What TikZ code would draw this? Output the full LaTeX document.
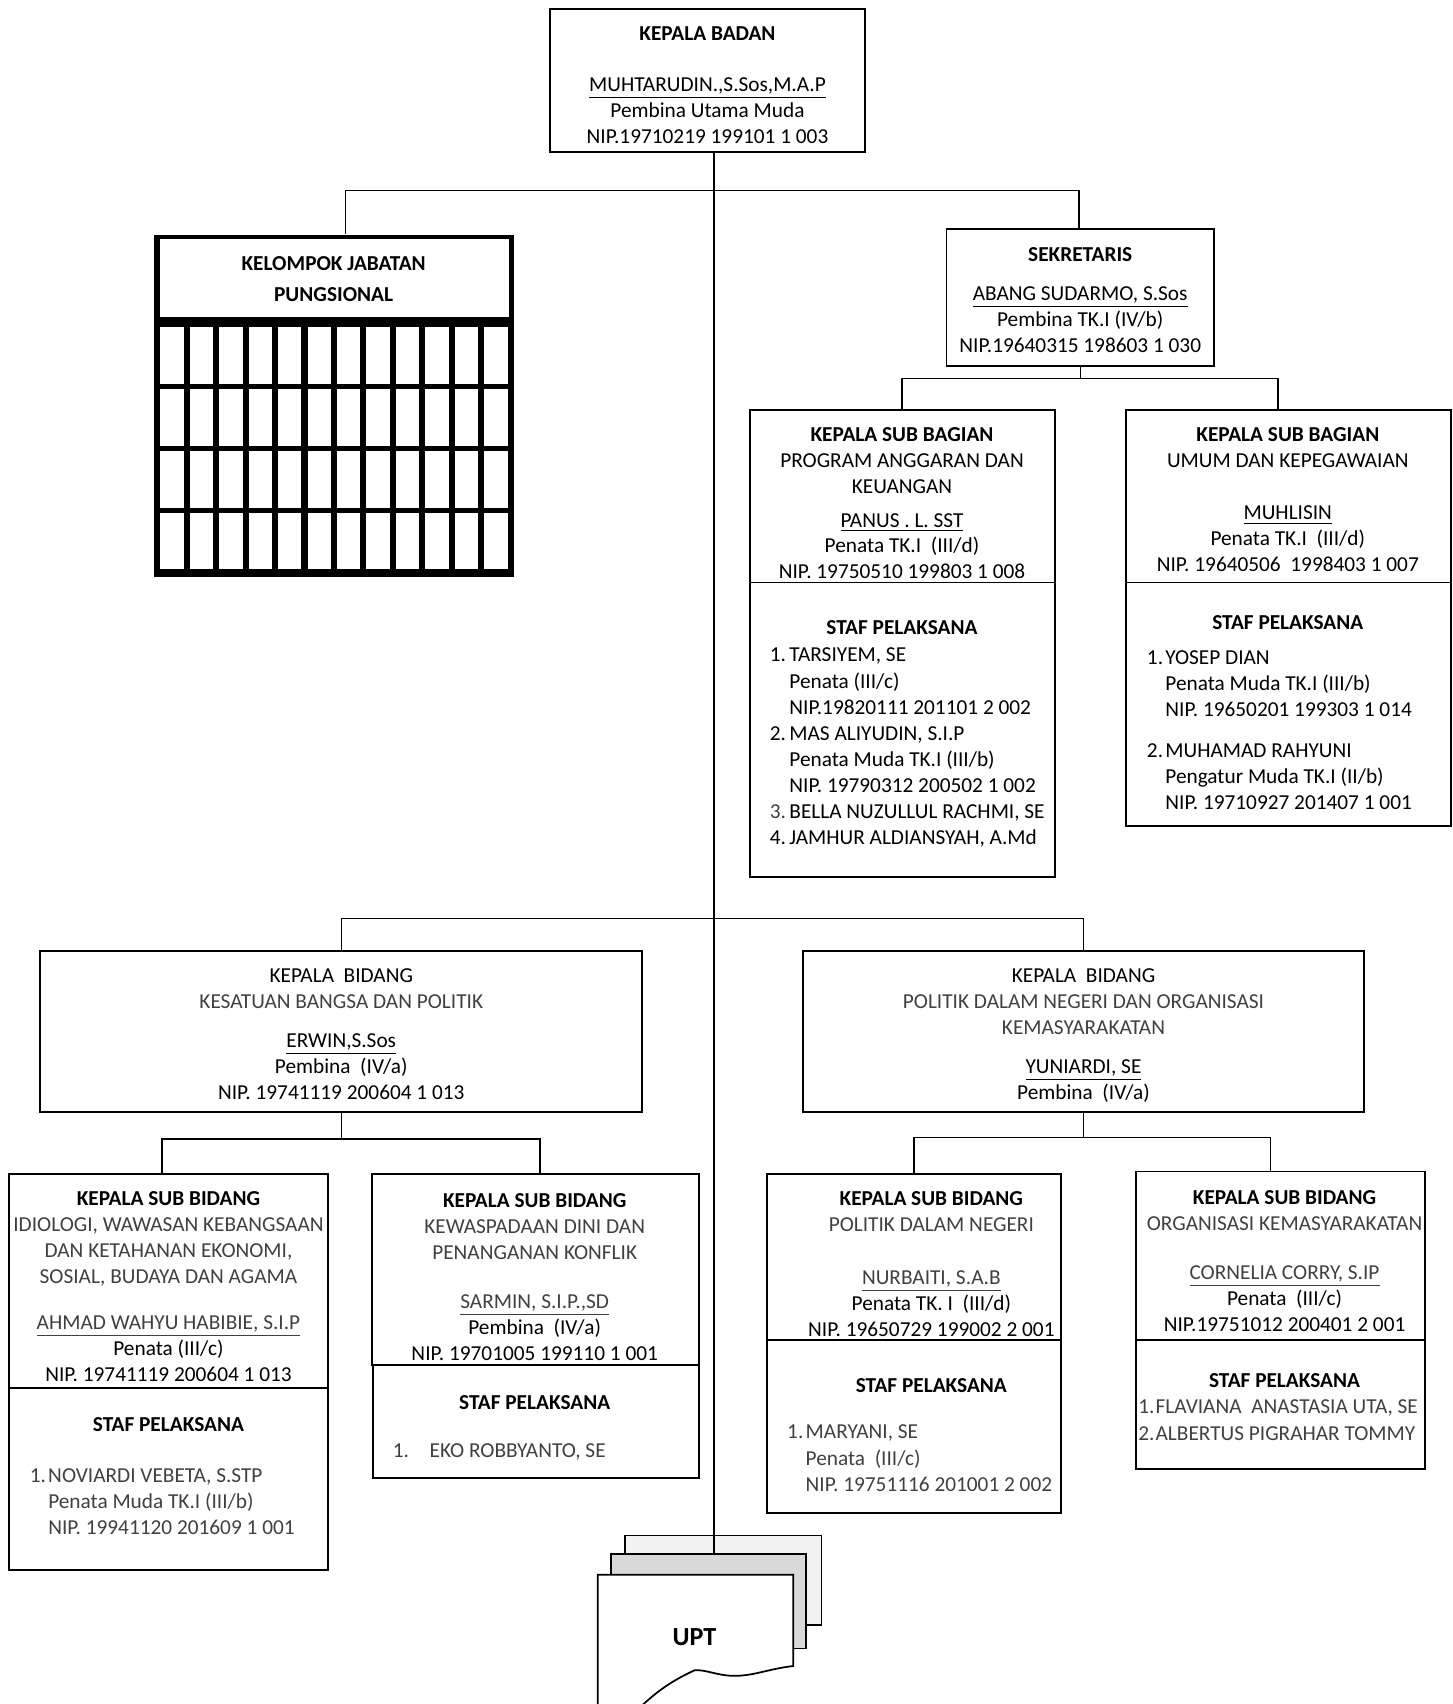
\documentclass[tikz,border=0pt]{standalone}
\usepackage{fontspec}
\setmainfont{Carlito}
\usetikzlibrary{fit}

\newcommand{\lite}[1]{{\color{black!75}#1}}
\newcommand{\nr}[2][9pt]{\makebox[#1][l]{#2}}

\tikzset{
  box/.style={draw, line width=0.8pt, inner sep=0pt},
  link/.style={draw, line width=0.6pt},
  txt/.style={align=center, anchor=north, inner sep=0pt, yshift=-2.5pt,
    font=\fontsize{9.8}{12}\selectfont, execute at begin node=\strut},
  list/.style={txt, align=left, anchor=north west},
}

\begin{document}
\begin{tikzpicture}[x=0.5pt, y=-0.5pt]
\useasboundingbox (0,0) rectangle (1337,1568);

% boxes
\node (badan)   [box, fit={(506,8) (796,140)}] {};
\node (sek)     [box, fit={(871,211) (1117,337)}] {};
\node (prog)    [box, fit={(690,377) (971,536)}] {};
\node (prog-s)  [box, fit={(690,536) (971,807)}] {};
\node (umum)    [box, fit={(1036,377) (1335,536)}] {};
\node (umum-s)  [box, fit={(1036,536) (1335,760)}] {};
\node (kesbang) [box, fit={(37,875) (591,1023)}] {};
\node (polbid)  [box, fit={(739,875) (1255,1023)}] {};
\node (ideo)    [box, fit={(8,1080) (302,1277)}] {};
\node (ideo-s)  [box, fit={(8,1277) (302,1445)}] {};
\node (waspada) [box, fit={(342,1080) (643,1256)}] {};
\node (waspada-s) [box, fit={(343,1256) (643,1360)}] {};
\node (pdn)     [box, fit={(706,1080) (976,1233)}] {};
\node (pdn-s)   [box, fit={(706,1233) (976,1392)}] {};
\node (ormas)   [box, fit={(1045,1078) (1311,1233)}] {};
\node (ormas-s) [box, fit={(1045,1233) (1311,1352)}] {};

% kelompok jabatan
\node (kjp)   [inner sep=0pt, fill=black, fit={(142,216) (473,531)}] {};
\node (kjp-h) [inner sep=0pt, fill=white, fit={(147,220) (468,292)}] {};
\foreach \c in {0,...,11}
  \foreach \r in {0,...,3}
    \fill[white] ({147.5+\c*27.1},{301+\r*57}) rectangle ++(21.5,52);

% UPT
\node (upt3) [box, fill=black!5, fit={(575,1413) (756,1495)}] {};
\node (upt2) [box, fill=black!15, fit={(562,1430) (742,1517)}] {};
\draw[line width=0.8pt, fill=white] (550,1600) -- (550,1449) -- (730,1449) -- (730,1533)
  .. controls (705,1536) and (692,1543) .. (672,1542)
  .. controls (658,1541) and (648,1536) .. (639,1537)
  .. controls (615,1548) and (600,1560) .. (585,1575)
  .. controls (580,1582) .. (575,1600) -- cycle;
\node (upt) [font=\fontsize{12}{14}\selectfont\bfseries] at (639,1506) {UPT};

% texts
\node (badan-t) [txt] at (651,19) {\textbf{KEPALA BADAN}\\[11.5pt]\underline{MUHTARUDIN.,S.Sos,M.A.P}\\Pembina Utama Muda\\NIP.19710219 199101 1 003};
\node (kjp-t) [txt, font=\fontsize{9.8}{12}\selectfont\bfseries] at (307,231) {KELOMPOK JABATAN\\[2pt]PUNGSIONAL};
\node (sek-t) [txt] at (994,222) {\textbf{SEKRETARIS}\\[6pt]\underline{ABANG SUDARMO, S.Sos}\\Pembina TK.I (IV/b)\\NIP.19640315 198603 1 030};

\node (prog-t) [txt] at (830,388) {\textbf{KEPALA SUB BAGIAN}\\PROGRAM ANGGARAN DAN\\KEUANGAN\\[3.5pt]\underline{PANUS . L. SST}\\[-0.5pt]Penata TK.I~~(III/d)\\NIP. 19750510 199803 1 008};
\node (prog-st) [txt] at (830,562) {\textbf{STAF PELAKSANA}};
\node (prog-l) [list] at (708,591) {\nr{1.}TARSIYEM, SE\\\nr{}Penata (III/c)\\\nr{}NIP.19820111 201101 2 002\\
  \nr{2.}MAS ALIYUDIN, S.I.P\\\nr{}Penata Muda TK.I (III/b)\\\nr{}NIP. 19790312 200502 1 002\\
  \nr{\lite{3.}}BELLA NUZULLUL RACHMI, SE\\\nr{4.}JAMHUR ALDIANSYAH, A.Md};

\node (umum-t) [txt] at (1185,388) {\textbf{KEPALA SUB BAGIAN}\\UMUM DAN KEPEGAWAIAN\\[12pt]\underline{MUHLISIN}\\Penata TK.I~~(III/d)\\NIP. 19640506~~1998403 1 007};
\node (umum-st) [txt] at (1185,557) {\textbf{STAF PELAKSANA}};
\node (umum-l) [list] at (1055,593) {\nr[8.5pt]{1.}YOSEP DIAN\\\nr[8.5pt]{}Penata Muda TK.I (III/b)\\\nr[8.5pt]{}NIP. 19650201 199303 1 014\\[7pt]
  \nr[8.5pt]{2.}MUHAMAD RAHYUNI\\\nr[8.5pt]{}Pengatur Muda TK.I (II/b)\\\nr[8.5pt]{}NIP. 19710927 201407 1 001};

\node (kesbang-t) [txt] at (314,886) {KEPALA~~BIDANG\\\lite{KESATUAN BANGSA DAN POLITIK}\\[6pt]\underline{ERWIN,S.Sos}\\Pembina~~(IV/a)\\NIP. 19741119 200604 1 013};
\node (polbid-t) [txt] at (997,886) {KEPALA~~BIDANG\\\lite{POLITIK DALAM NEGERI DAN ORGANISASI}\\\lite{KEMASYARAKATAN}\\[6pt]\underline{YUNIARDI, SE}\\Pembina~~(IV/a)};

\node (ideo-t) [txt] at (155,1091) {\textbf{KEPALA SUB BIDANG}\\\lite{IDIOLOGI, WAWASAN KEBANGSAAN}\\\lite{DAN KETAHANAN EKONOMI,}\\\lite{SOSIAL, BUDAYA DAN AGAMA}\\[9pt]\lite{\underline{AHMAD WAHYU HABIBIE, S.I.P}}\\Penata (III/c)\\NIP. 19741119 200604 1 013};
\node (ideo-st) [txt] at (155,1295) {\textbf{STAF PELAKSANA}};
\node (ideo-l) [list, text=black!75] at (27,1346) {\nr[8.5pt]{1.}NOVIARDI VEBETA, S.STP\\\nr[8.5pt]{}Penata Muda TK.I (III/b)\\\nr[8.5pt]{}NIP. 19941120 201609 1 001};

\node (waspada-t) [txt] at (492,1093) {\textbf{KEPALA SUB BIDANG}\\\lite{KEWASPADAAN DINI DAN}\\\lite{PENANGANAN KONFLIK}\\[10.5pt]\lite{\underline{SARMIN, S.I.P.,SD}}\\Pembina~~(IV/a)\\NIP. 19701005 199110 1 001};
\node (waspada-st) [txt] at (492,1275) {\textbf{STAF PELAKSANA}};
\node (waspada-l) [list, text=black!75] at (361,1319) {\nr[17pt]{1.}EKO ROBBYANTO, SE};

\node (pdn-t) [txt] at (857,1091) {\textbf{KEPALA SUB BIDANG}\\\lite{POLITIK DALAM NEGERI}\\[12.5pt]\lite{\underline{NURBAITI, S.A.B}}\\Penata TK. I~~(III/d)\\NIP. 19650729 199002 2 001};
\node (pdn-st) [txt] at (857,1259) {\textbf{STAF PELAKSANA}};
\node (pdn-l) [list, text=black!75] at (724,1306) {\nr[8.5pt]{1.}MARYANI, SE\\\nr[8.5pt]{}Penata~~(III/c)\\\nr[8.5pt]{}NIP. 19751116 201001 2 002};

\node (ormas-t) [txt] at (1182,1090) {\textbf{KEPALA SUB BIDANG}\\\lite{ORGANISASI KEMASYARAKATAN}\\[10.5pt]\lite{\underline{CORNELIA CORRY, S.IP}}\\Penata~~(III/c)\\NIP.19751012 200401 2 001};
\node (ormas-st) [txt] at (1182,1255) {\textbf{STAF PELAKSANA}};
\node (ormas-l) [list, text=black!75] at (1047,1283) {\nr[8pt]{1.}FLAVIANA~~ANASTASIA UTA, SE\\\nr[8pt]{2.}ALBERTUS PIGRAHAR TOMMY};

% connectors
\coordinate (tr) at (657,175);
\coordinate (b1l) at (318,175);
\coordinate (b1r) at (993,175);
\draw[link] (badan.south -| tr) -- (upt2.north -| tr);
\draw[link] (b1l |- kjp.north) -- (b1l) -- (b1r) -- (b1r |- sek.north);

\coordinate (b2l) at (830,348);
\coordinate (b2r) at (1176,348);
\draw[link] (sek.south) -- (sek.south |- b2l);
\draw[link] (b2l |- prog.north) -- (b2l) -- (b2r) -- (b2r |- umum.north);

\coordinate (b3) at (0,845);
\draw[link] (kesbang.north) -- (kesbang.north |- b3) -| (polbid.north);

\coordinate (b4l) at (149,1048);
\coordinate (b4r) at (497,1048);
\draw[link] (kesbang.south) -- (kesbang.south |- b4l);
\draw[link] (b4l |- ideo.north) -- (b4l) -- (b4r) -- (b4r |- waspada.north);

\coordinate (b5r) at (1169,1047);
\draw[link] (polbid.south) -- (polbid.south |- b5r);
\draw[link] (pdn.north) -- (pdn.north |- b5r) -- (b5r) -- (b5r |- ormas.north);
\end{tikzpicture}
\end{document}
